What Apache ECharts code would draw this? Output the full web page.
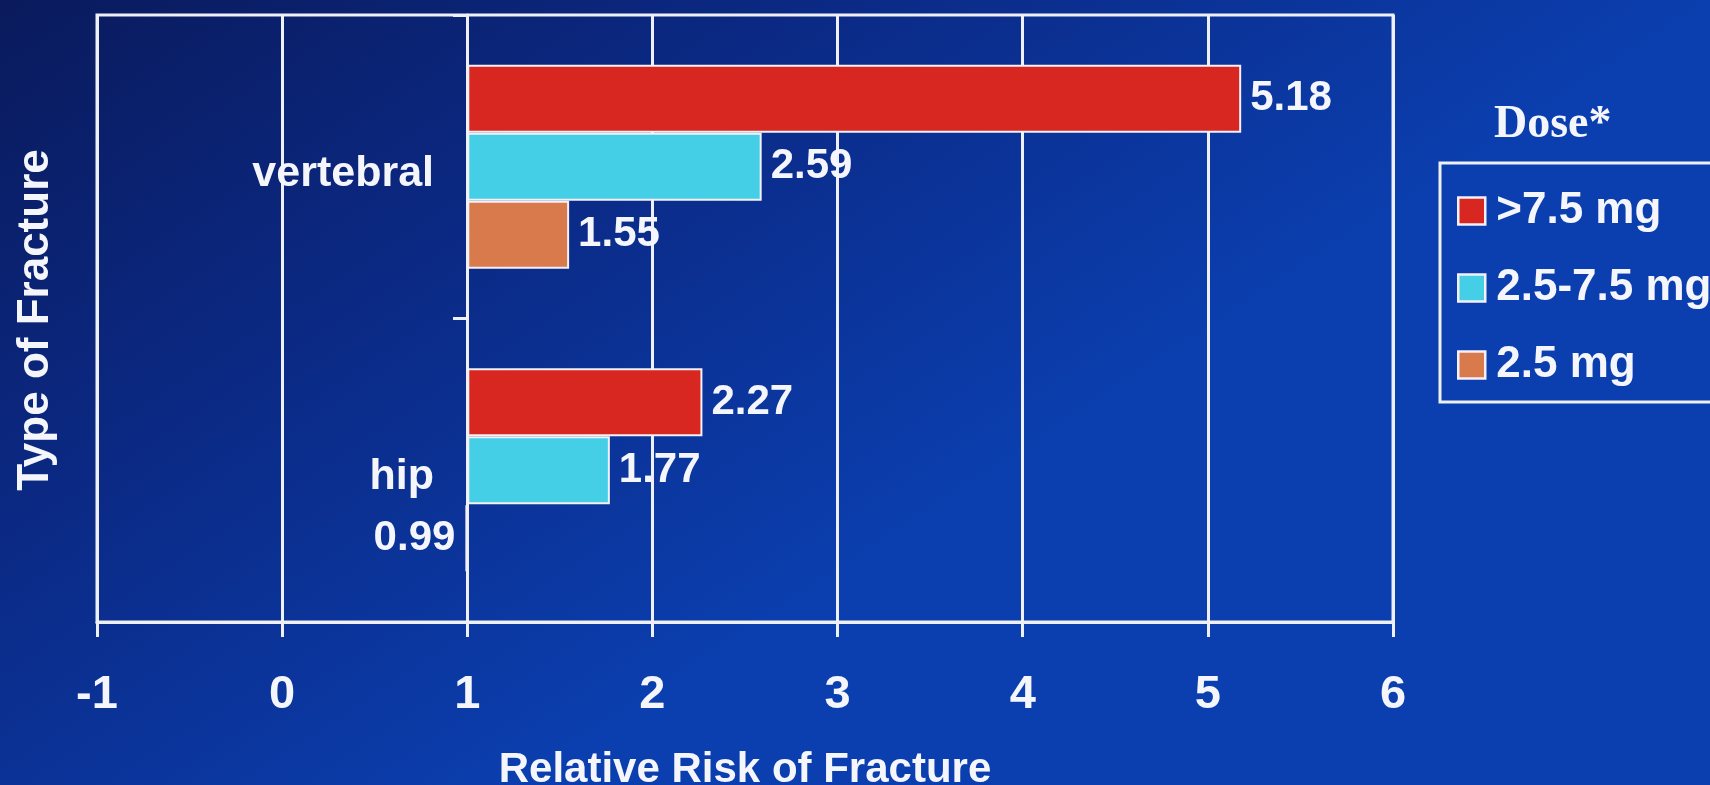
<!DOCTYPE html>
<html>
<head>
<meta charset="utf-8">
<script src="https://cdn.jsdelivr.net/npm/echarts@6/dist/echarts.min.js"></script>
<style>
html,body{margin:0;padding:0;width:1710px;height:785px;overflow:hidden;background:#0b2a80;}
#chart{width:1710px;height:785px;}
</style>
</head>
<body>
<div id="chart"></div>
<script>
// ---- data ----
const categories = ['vertebral', 'hip'];
const seriesNames = ['>7.5 mg', '2.5-7.5 mg', '2.5 mg'];
const highDose = [5.18, 2.27];   // >7.5 mg
const midDose = [2.59, 1.77];    // 2.5-7.5 mg
const lowDose = [1.55, 0.99];    // 2.5 mg
const baseline = 1;              // bars start at relative risk 1
const xMin = -1, xMax = 6, xInterval = 1;

const seriesValues = [highDose, midDose, lowDose];
const seriesColors = ['#d82620', '#44cfe6', '#d97a4c'];

const FONT = '"Liberation Sans", Arial, sans-serif';
const chart = echarts.init(document.getElementById('chart'));

const series = [];
seriesValues.forEach((vals, i) => {
  series.push({
    name: 'base' + i,
    type: 'bar',
    stack: 's' + i,
    stackStrategy: 'all',
    silent: true,
    barWidth: 68,
    barGap: '0%',
    itemStyle: { color: 'rgba(0,0,0,0)' },
    emphasis: { disabled: true },
    data: vals.map(() => baseline)
  });
  series.push({
    name: seriesNames[i],
    type: 'bar',
    stack: 's' + i,
    stackStrategy: 'all',
    barWidth: 68,
    barGap: '0%',
    itemStyle: { color: seriesColors[i], borderColor: '#f3f1f6', borderWidth: 2 },
    emphasis: { disabled: true },
    label: {
      show: true,
      position: 'right',
      distance: 9,
      color: '#f4f6fb',
      fontFamily: FONT,
      fontWeight: 'bold',
      fontSize: 42,
      formatter: p => vals[p.dataIndex].toFixed(2)
    },
    data: vals.map(v => {
      const d = { value: +(v - baseline).toFixed(4) };
      if (v < baseline) d.label = { position: 'left', distance: 10 };
      return d;
    })
  });
});

const option = {
  backgroundColor: {
    type: 'linear', x: 0, y: 0, x2: 0.3, y2: 1,
    colorStops: [
      { offset: 0, color: '#0a1a5c' },
      { offset: 0.5, color: '#0b2a86' },
      { offset: 1, color: '#0b3eae' }
    ]
  },
  animation: false,
  title: {
    text: 'Dose*',
    left: 1494,
    top: 102,
    padding: 0,
    textStyle: { color: '#f4f6fb', fontFamily: '"Liberation Serif", "Times New Roman", serif', fontWeight: 'bold', fontSize: 46 }
  },
  legend: {
    orient: 'vertical',
    left: 1440,
    top: 163,
    data: seriesNames,
    selectedMode: false,
    icon: 'rect',
    itemWidth: 27,
    itemHeight: 27,
    itemGap: 33,
    borderColor: '#eef0f6',
    borderWidth: 3,
    padding: [26, 140, 15, 17],
    itemStyle: { borderColor: '#f3f1f6', borderWidth: 2.5 },
    textStyle: { color: '#f4f6fb', fontFamily: FONT, fontWeight: 'bold', fontSize: 44, lineHeight: 44, padding: [0, 0, 0, 6] }
  },
  grid: {
    left: 97, right: 317, top: 15, bottom: 163,
    show: true,
    borderColor: '#eef0f6',
    borderWidth: 3,
    containLabel: false,
    outerBoundsMode: 'none'
  },
  xAxis: {
    type: 'value',
    min: xMin, max: xMax, interval: xInterval,
    position: 'bottom',
    axisLine: { show: true, lineStyle: { color: '#eef0f6', width: 3 } },
    axisTick: { show: true, length: 15, lineStyle: { color: '#eef0f6', width: 3 } },
    splitLine: { show: true, lineStyle: { color: '#eef0f6', width: 3 } },
    axisLabel: { color: '#f4f6fb', fontFamily: FONT, fontWeight: 'bold', fontSize: 47, margin: 50 },
    name: 'Relative Risk of Fracture',
    nameLocation: 'middle',
    nameGap: 127,
    nameTextStyle: { color: '#f4f6fb', fontFamily: FONT, fontWeight: 'bold', fontSize: 42, lineHeight: 42 }
  },
  yAxis: {
    type: 'category',
    data: categories,
    inverse: true,
    position: 'left',
    offset: -370,
    axisLine: { show: true, lineStyle: { color: '#eef0f6', width: 3 } },
    axisTick: { show: true, length: 14, lineStyle: { color: '#eef0f6', width: 3 } },
    splitLine: { show: false },
    axisLabel: {
      color: '#f4f6fb', fontFamily: FONT, fontWeight: 'bold', fontSize: 43, margin: 33,
      formatter: v => '{c|' + v + '}',
      rich: { c: { color: '#f4f6fb', fontFamily: FONT, fontWeight: 'bold', fontSize: 43, padding: [14, 0, 0, 0] } }
    }
  },
  graphic: [{
    type: 'text',
    x: 36,
    y: 320,
    rotation: Math.PI / 2,
    style: {
      text: 'Type of Fracture',
      fill: '#f4f6fb',
      font: 'bold 44px "Liberation Sans", Arial, sans-serif',
      align: 'center',
      verticalAlign: 'middle'
    }
  }],
  series: series
};
chart.setOption(option);
</script>
</body>
</html>
